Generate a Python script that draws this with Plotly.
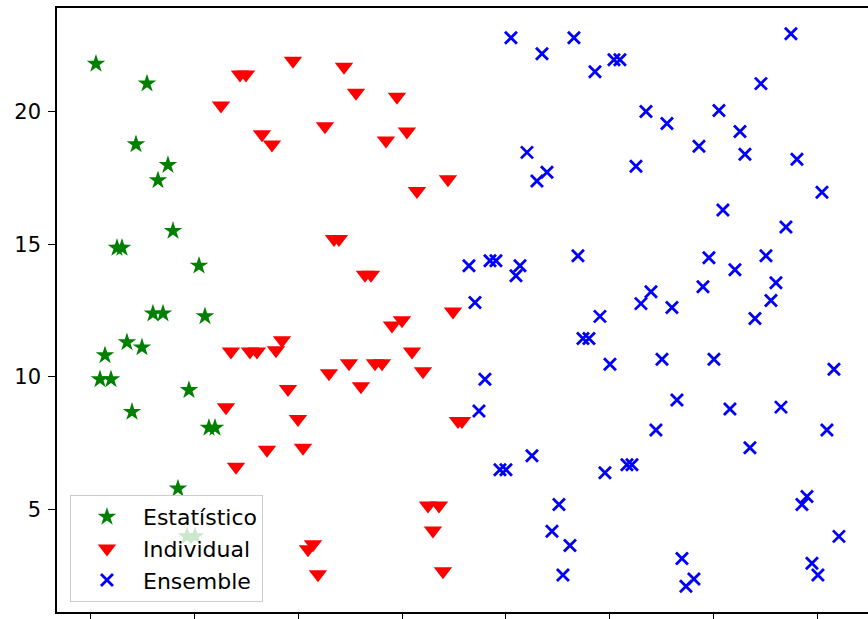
import plotly.graph_objects as go

# --- Estatístico (green stars) ---
est_x = [1.02, 10.85, 8.73, 14.89, 12.97, 15.86, 5.07, 6.03, 20.87, 12.0, 13.93, 22.02,
         6.99, 9.88, 2.76, 1.79, 3.91, 18.94, 7.96, 22.79, 23.95, 16.82, 18.55, 20.1]
est_y = [21.8, 21.05, 18.76, 17.98, 17.41, 15.5, 14.86, 14.86, 14.19, 12.39, 12.39, 12.28,
         11.3, 11.11, 10.81, 9.91, 9.91, 9.5, 8.68, 8.08, 8.08, 5.79, 3.99, 3.99]

# --- Individual (red down-triangles) ---
ind_x = [38.98, 28.77, 29.92, 25.11, 33.01, 34.93, 48.81, 51.12, 59.02, 45.14, 60.94, 56.9,
         68.84, 62.87, 46.88, 47.84, 52.85, 54.01, 69.81, 59.98, 58.05, 61.91, 64.03, 45.92,
         49.77, 54.78, 56.13, 52.08, 38.02, 39.94, 40.91, 71.54, 70.77, 64.99, 67.11, 65.95,
         42.83, 41.87, 43.8, 67.88, 27.03, 30.69, 32.04, 35.7, 36.86, 26.07, 33.97, 28.0]
ind_y = [21.91, 21.39, 21.39, 20.23, 19.14, 18.76, 21.69, 20.71, 20.56, 19.44, 19.25, 18.91,
         17.45, 17.0, 15.2, 15.2, 13.85, 13.85, 12.46, 12.13, 11.94, 10.96, 10.21, 10.14,
         10.51, 10.51, 10.51, 9.65, 9.54, 8.41, 7.33, 8.34, 8.34, 5.15, 5.15, 4.21,
         3.69, 3.5, 2.56, 2.68, 10.96, 10.96, 10.96, 11.0, 11.38, 8.86, 7.25, 6.61]

# --- Ensemble (blue crosses) ---
ens_x = [80.98, 86.96, 93.12, 97.17, 100.83, 101.98, 134.93, 129.15, 107.0, 111.04, 121.06,
         125.11, 117.21, 126.07, 105.07, 136.09, 140.91, 121.83, 133.97, 93.89, 119.13, 124.14,
         130.12, 132.04, 117.98, 107.96, 106.03, 112.0, 131.08, 128.0, 98.13, 94.86, 96.01,
         100.06, 110.08, 120.1, 143.22, 112.97, 123.18, 133.01, 108.92, 141.87, 127.03, 99.09,
         103.33, 104.3, 138.02, 137.05, 144.18, 92.35, 91.0, 113.93, 116.24, 114.7, 138.98,
         140.13, 84.07, 87.92, 85.99, 72.89, 76.94, 78.09, 82.72, 81.95, 74.05, 75.97, 74.82,
         78.86, 80.02, 85.03, 90.23, 88.88]
ens_y = [22.78, 22.18, 22.78, 21.5, 21.95, 21.95, 22.93, 21.05, 20.0, 19.55, 20.04,
         19.25, 18.69, 18.39, 17.94, 18.2, 16.96, 16.29, 15.65, 14.56, 14.49, 14.04,
         14.56, 13.55, 13.4, 13.21, 12.76, 12.61, 12.88, 12.2, 12.28, 11.45, 11.45,
         10.48, 10.66, 10.66, 10.29, 9.13, 8.79, 8.86, 8.0, 8.0, 7.33, 6.39,
         6.69, 6.69, 5.49, 5.19, 3.99, 3.65, 2.53, 3.16, 2.38, 2.11, 2.98,
         2.53, 18.46, 17.71, 17.38, 14.19, 14.38, 14.38, 14.19, 13.81, 12.8, 9.91, 8.71,
         6.5, 6.5, 7.03, 5.19, 4.18]

x_ticks = [0, 20, 40, 60, 80, 100, 120, 140]
y_ticks = [5, 10, 15, 20]

fig = go.Figure()
fig.add_trace(go.Scatter(
    x=est_x, y=est_y, mode="markers", name="Estatístico",
    marker=dict(symbol="star", size=14, color="#008000", line=dict(width=0)),
))
fig.add_trace(go.Scatter(
    x=ind_x, y=ind_y, mode="markers", name="Individual",
    marker=dict(symbol="triangle-down", size=16, color="#ff0000", line=dict(width=0)),
))
fig.add_trace(go.Scatter(
    x=ens_x, y=ens_y, mode="markers", name="Ensemble",
    marker=dict(symbol="x-thin", size=12, color="#0000ff",
                line=dict(width=2.8, color="#0000ff")),
))

fig.update_layout(
    width=868, height=619,
    margin=dict(l=57, r=0, t=8, b=4),
    paper_bgcolor="white", plot_bgcolor="white",
    font=dict(family="DejaVu Sans", size=21, color="#000000"),
    showlegend=True,
    legend=dict(
        x=0.016, y=0.0165, xanchor="left", yanchor="bottom",
        bgcolor="rgba(255,255,255,0.8)", bordercolor="#cccccc", borderwidth=1,
        font=dict(family="DejaVu Sans", size=22, color="#000000"),
        itemwidth=62, tracegroupgap=0, entrywidth=190,
    ),
)
fig.update_xaxes(
    range=[-6.49, 149.78], tickmode="array", tickvals=x_ticks,
    showticklabels=False, ticks="outside", ticklen=7, tickwidth=1.3, tickcolor="#000",
    showgrid=False, zeroline=False,
    showline=True, linewidth=1.5, linecolor="#000", mirror=True,
)
fig.update_yaxes(
    range=[1.14, 23.9], tickmode="array", tickvals=y_ticks,
    ticks="outside", ticklen=7, tickwidth=1.3, tickcolor="#000", ticklabelstandoff=3,
    showgrid=False, zeroline=False,
    showline=True, linewidth=1.5, linecolor="#000", mirror=False,
)

fig.write_html("out.html")
